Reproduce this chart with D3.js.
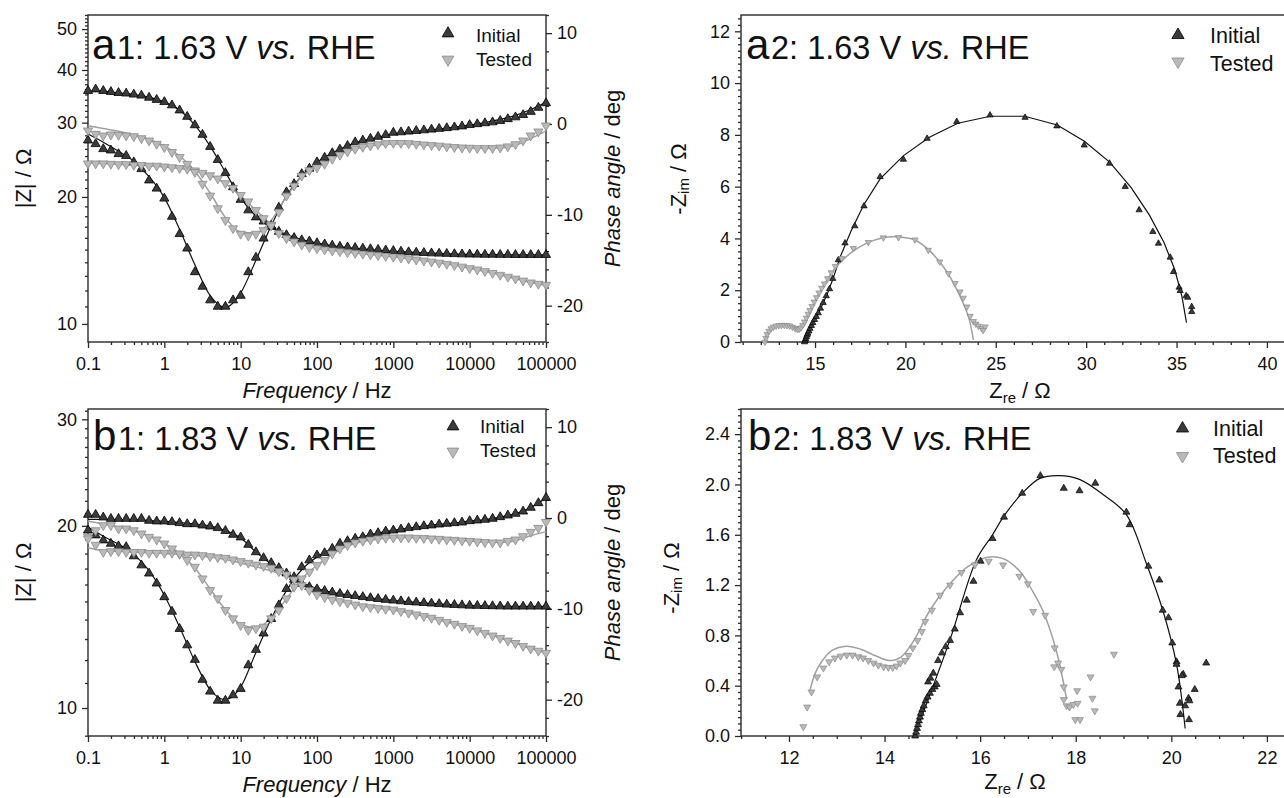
<!DOCTYPE html>
<html>
<head>
<meta charset="utf-8">
<title>EIS Bode / Nyquist</title>
<script src="https://cdn.jsdelivr.net/npm/d3@7"></script>
<style>
  body { margin: 0; background: #fff; }
  svg { display: block; background: #fff; }
  svg text { font-family: "Liberation Sans", Arial, sans-serif; }
</style>
</head>
<body>
<svg id="chart" width="1284" height="798"></svg>
<script>
// ---- frequency grid (10 points / decade) ----
const freq = [0.1, 0.1259, 0.1585, 0.1995, 0.2512, 0.3162, 0.3981, 0.5012, 0.631, 0.7943,
  1, 1.259, 1.585, 1.995, 2.512, 3.162, 3.981, 5.012, 6.31, 7.943,
  10, 12.59, 15.85, 19.95, 25.12, 31.62, 39.81, 50.12, 63.1, 79.43,
  100, 125.9, 158.5, 199.5, 251.2, 316.2, 398.1, 501.2, 631, 794.3,
  1000, 1259, 1585, 1995, 2512, 3162, 3981, 5012, 6310, 7943,
  10000, 12589, 15849, 19953, 25119, 31623, 39811, 50119, 63096, 79433, 100000];
const fitFreq = [0.1, 0.1585, 0.2512, 0.3981, 0.631, 1, 1.585, 2.512, 3.981, 6.31,
  10, 15.85, 25.12, 39.81, 63.1, 100, 158.5, 251.2, 398.1, 631,
  1000, 1585, 2512, 3981, 6310, 10000, 15849, 25119, 39811, 63096, 100000];

// ---- a1: 1.63 V Bode ----
const a1ZInit = [35.7, 36.0, 35.7, 35.5, 35.3, 35.2, 35.0, 34.8, 34.4, 34.0,
  33.6, 33.0, 32.1, 31.0, 29.6, 28.1, 26.3, 24.5, 22.8, 21.1,
  19.7, 18.6, 17.9, 17.5, 17.0, 16.55, 16.25, 16.0, 15.8, 15.7,
  15.55, 15.45, 15.35, 15.25, 15.2, 15.15, 15.1, 15.05, 15.0, 14.95,
  14.9, 14.85, 14.8, 14.77, 14.74, 14.71, 14.69, 14.67, 14.65, 14.63,
  14.62, 14.61, 14.6, 14.6, 14.59, 14.59, 14.58, 14.58, 14.58, 14.58, 14.58];
const a1PhInit = [-1.8, -2.2, -2.75, -2.9, -3.3, -3.5, -4.2, -4.95, -6.2, -7.1,
  -8.2, -10.2, -12.1, -13.7, -16.3, -17.9, -19.4, -20.1, -20.1, -19.4,
  -18.9, -16.3, -14.7, -12.6, -11.2, -9.2, -7.5, -6.6, -5.5, -4.9,
  -4.2, -3.7, -3.2, -2.8, -2.4, -2.0, -1.8, -1.6, -1.4, -1.2,
  -0.95, -0.9, -0.82, -0.75, -0.68, -0.6, -0.52, -0.44, -0.35, -0.25,
  -0.1, 0.0, 0.1, 0.2, 0.35, 0.55, 0.75, 1.0, 1.35, 1.8, 2.3];
const a1ZTest = [24.0, 24.0, 24.0, 23.95, 23.9, 23.9, 23.8, 23.8, 23.7, 23.7,
  23.6, 23.5, 23.4, 23.3, 23.1, 22.8, 22.5, 22.1, 21.55, 21.0,
  20.2, 19.5, 18.6, 17.8, 17.2, 16.4, 15.96, 15.67, 15.4, 15.2,
  15.1, 15.0, 14.92, 14.85, 14.78, 14.72, 14.66, 14.6, 14.54, 14.48,
  14.42, 14.35, 14.28, 14.2, 14.12, 14.04, 13.96, 13.87, 13.77, 13.66,
  13.55, 13.45, 13.33, 13.2, 13.06, 12.93, 12.8, 12.66, 12.53, 12.44, 12.37];
const a1PhTest = [-0.73, -1.1, -1.28, -1.17, -1.21, -1.28, -1.36, -1.58, -1.83, -2.2,
  -2.56, -3.1, -3.66, -4.4, -5.3, -6.6, -7.9, -9.3, -10.6, -11.5,
  -12.1, -12.3, -12.1, -11.7, -11.2, -9.7, -7.9, -6.8, -5.7, -5.1,
  -4.8, -4.4, -3.85, -3.4, -3.04, -2.75, -2.53, -2.38, -2.24, -2.13,
  -2.1, -2.1, -2.13, -2.2, -2.27, -2.34, -2.4, -2.48, -2.55, -2.6,
  -2.63, -2.67, -2.67, -2.67, -2.6, -2.48, -2.24, -1.83, -1.28, -0.84, -0.18];
const a1ZInitFit = [35.6, 35.6, 35.3, 35.0, 34.5, 33.6, 32.1, 29.6, 26.4, 22.9,
  19.9, 18.0, 16.95, 16.3, 15.85, 15.55, 15.32, 15.17, 15.05, 14.95,
  14.87, 14.8, 14.74, 14.69, 14.65, 14.62, 14.6, 14.59, 14.58, 14.58, 14.58];
const a1PhInitFit = [-1.1, -2.0, -3.0, -4.1, -5.8, -8.1, -11.6, -15.5, -18.9, -20.2,
  -18.6, -15.0, -11.2, -7.9, -5.7, -4.2, -3.2, -2.4, -1.85, -1.45,
  -1.1, -0.9, -0.72, -0.55, -0.35, -0.12, 0.15, 0.5, 0.95, 1.6, 2.4];
const a1ZTestFit = [24.1, 24.0, 23.9, 23.8, 23.7, 23.55, 23.35, 23.05, 22.5, 21.5,
  20.1, 18.6, 17.2, 16.1, 15.45, 15.1, 14.92, 14.78, 14.66, 14.54,
  14.42, 14.28, 14.12, 13.96, 13.77, 13.55, 13.33, 13.06, 12.8, 12.54, 12.35];
const a1PhTestFit = [-0.2, -0.5, -0.8, -1.2, -1.7, -2.4, -3.5, -5.2, -7.6, -10.3,
  -11.9, -12.0, -10.6, -8.0, -5.8, -4.6, -3.7, -3.0, -2.55, -2.3,
  -2.2, -2.2, -2.3, -2.42, -2.55, -2.63, -2.68, -2.62, -2.35, -1.6, -0.75];

// ---- b1: 1.83 V Bode ----
const b1ZInit = [20.87, 20.87, 20.66, 20.55, 20.55, 20.55, 20.55, 20.55, 20.4, 20.35,
  20.35, 20.3, 20.22, 20.14, 20.14, 20.04, 19.96, 19.84, 19.63, 19.34,
  19.15, 18.62, 18.1, 17.7, 17.37, 17.04, 16.7, 16.3, 16.05, 15.85,
  15.72, 15.62, 15.53, 15.45, 15.38, 15.32, 15.26, 15.2, 15.15, 15.1,
  15.06, 15.02, 14.98, 14.95, 14.92, 14.89, 14.86, 14.83, 14.81, 14.79,
  14.77, 14.76, 14.75, 14.74, 14.73, 14.72, 14.72, 14.72, 14.72, 14.72, 14.72];
const b1PhInit = [-1.36, -1.9, -2.45, -2.82, -3.1, -3.19, -4.2, -5.2, -6.1, -7.2,
  -8.7, -10.3, -12.2, -14.0, -15.6, -17.8, -19.1, -20.1, -20.1, -19.5,
  -18.8, -16.2, -14.5, -12.7, -11.1, -9.6, -7.8, -6.5, -5.4, -4.65,
  -4.1, -3.85, -3.37, -2.82, -2.53, -2.27, -2.09, -1.79, -1.65, -1.47,
  -1.36, -1.25, -1.1, -0.99, -0.88, -0.8, -0.7, -0.62, -0.55, -0.48,
  -0.33, -0.26, -0.18, -0.07, 0.11, 0.29, 0.48, 0.73, 1.14, 1.65, 2.23];
const b1ZTest = [19.2, 18.6, 18.1, 18.15, 18.15, 18.1, 18.1, 18.1, 18.04, 18.04,
  18.04, 18.04, 17.97, 17.92, 17.92, 17.88, 17.81, 17.74, 17.7, 17.59,
  17.48, 17.37, 17.25, 17.15, 17.04, 16.82, 16.61, 16.3, 15.95, 15.65,
  15.4, 15.24, 15.1, 15.0, 14.92, 14.82, 14.72, 14.67, 14.62, 14.58,
  14.54, 14.45, 14.36, 14.27, 14.18, 14.09, 13.98, 13.87, 13.77, 13.66,
  13.56, 13.43, 13.3, 13.17, 13.05, 12.92, 12.8, 12.66, 12.53, 12.43, 12.33];
const b1PhTest = [-2.27, -1.36, -0.81, -0.81, -1.17, -1.17, -1.36, -1.72, -2.09, -2.38,
  -2.82, -3.37, -3.92, -4.65, -5.38, -6.67, -7.95, -8.86, -10.15, -11.06,
  -11.8, -12.34, -12.16, -11.98, -11.06, -10.15, -8.86, -7.58, -6.67, -5.93,
  -5.2, -4.65, -3.92, -3.37, -3.0, -2.71, -2.53, -2.38, -2.27, -2.2,
  -2.16, -2.16, -2.16, -2.2, -2.23, -2.27, -2.31, -2.38, -2.42, -2.49,
  -2.53, -2.6, -2.67, -2.71, -2.71, -2.53, -2.38, -2.01, -1.54, -1.1, -0.44];
const b1ZInitFit = [20.5, 20.5, 20.48, 20.45, 20.4, 20.35, 20.25, 20.15, 20.0, 19.65,
  19.1, 18.1, 17.3, 16.6, 16.1, 15.75, 15.53, 15.38, 15.26, 15.15,
  15.06, 14.98, 14.92, 14.86, 14.81, 14.77, 14.75, 14.73, 14.72, 14.72, 14.72];
const b1PhInitFit = [-1.0, -2.0, -2.9, -4.0, -5.8, -8.5, -12.0, -15.8, -18.9, -20.0,
  -18.6, -14.8, -11.1, -8.0, -5.7, -4.3, -3.35, -2.55, -2.05, -1.65,
  -1.36, -1.1, -0.88, -0.7, -0.55, -0.35, -0.18, 0.1, 0.48, 1.14, 2.2];
const b1ZTestFit = [18.4, 18.2, 18.15, 18.1, 18.05, 18.0, 17.93, 17.87, 17.76, 17.6,
  17.37, 17.12, 16.85, 16.5, 15.98, 15.45, 15.12, 14.92, 14.74, 14.62,
  14.52, 14.36, 14.18, 13.98, 13.77, 13.56, 13.3, 13.05, 12.8, 12.54, 12.34];
const b1PhTestFit = [-0.35, -0.65, -1.0, -1.4, -2.0, -2.8, -3.9, -5.5, -7.8, -10.1,
  -11.7, -12.1, -11.0, -8.9, -6.7, -5.2, -4.0, -3.1, -2.6, -2.3,
  -2.18, -2.15, -2.2, -2.3, -2.42, -2.53, -2.65, -2.7, -2.5, -1.95, -1.5];

// ---- a2: 1.63 V Nyquist ----
const a2InitRe = [14.42, 14.45, 14.48, 14.52, 14.56, 14.6, 14.66, 14.72, 14.8, 14.88,
  14.97, 15.07, 15.18, 15.3, 15.45, 15.62, 15.8, 15.98, 16.29, 16.66,
  17.2, 17.71, 18.6, 19.89, 21.2, 22.84, 24.68, 26.62, 28.38, 29.89,
  31.29, 32.16, 32.93, 33.69, 34.0, 34.65, 34.83, 35.14, 35.2, 35.53,
  35.62, 35.84, 35.84];
const a2InitIm = [0.0, 0.06, 0.12, 0.19, 0.26, 0.33, 0.42, 0.52, 0.63, 0.74,
  0.86, 0.98, 1.12, 1.3, 1.52, 1.78, 2.05, 2.45, 3.17, 3.82,
  4.48, 5.25, 6.38, 7.05, 7.86, 8.51, 8.76, 8.67, 8.34, 7.6,
  6.9, 6.0, 5.1, 4.26, 3.81, 3.27, 2.71, 2.11, 1.98, 1.78,
  1.72, 1.36, 1.17];
const a2TestRe = [12.23, 12.28, 12.35, 12.45, 12.57, 12.7, 12.85, 13.0, 13.15, 13.3,
  13.45, 13.6, 13.75, 13.9, 14.02, 14.12, 14.22, 14.32, 14.42, 14.52,
  14.62, 14.72, 14.83, 14.95, 15.08, 15.22, 15.37, 15.52, 15.7, 15.9,
  16.12, 16.48, 17.12, 17.95, 18.78, 19.62, 20.53, 21.27, 21.9, 22.38,
  22.75, 23.02, 23.2, 23.4, 23.58, 23.76, 23.9, 24.04, 24.22, 24.41, 24.3];
const a2TestIm = [0.0, 0.15, 0.3, 0.42, 0.52, 0.58, 0.62, 0.64, 0.65, 0.65,
  0.64, 0.62, 0.58, 0.53, 0.5, 0.5, 0.55, 0.65, 0.78, 0.93,
  1.08, 1.22, 1.38, 1.55, 1.72, 1.9, 2.08, 2.25, 2.45, 2.68,
  2.92, 3.23, 3.62, 3.85, 4.03, 4.04, 3.95, 3.55, 3.1, 2.65,
  2.27, 1.94, 1.7, 1.36, 1.0, 0.8, 0.7, 0.62, 0.53, 0.59, 0.45];
const a2InitFitRe = [14.4, 14.7, 15.0, 15.35, 15.7, 16.0, 16.4, 17.0, 17.7, 18.6,
  19.9, 21.3, 22.9, 24.7, 26.6, 28.4, 29.9, 31.3, 32.5, 33.5, 34.3, 34.9, 35.3, 35.55];
const a2InitFitIm = [0.0, 0.45, 0.85, 1.35, 1.9, 2.45, 3.3, 4.3, 5.3, 6.3,
  7.2, 7.9, 8.45, 8.72, 8.72, 8.38, 7.75, 6.95, 5.95, 4.9, 3.85, 2.8, 1.75, 0.75];
const a2TestFitRe = [12.2, 12.35, 12.55, 12.8, 13.1, 13.4, 13.7, 14.0, 14.2, 14.45,
  14.8, 15.2, 15.7, 16.3, 17.0, 17.8, 18.7, 19.6, 20.5, 21.3, 22.0, 22.6, 23.1, 23.5, 23.76];
const a2TestFitIm = [0.0, 0.3, 0.5, 0.62, 0.66, 0.65, 0.6, 0.53, 0.52, 0.72,
  1.25, 1.85, 2.45, 3.0, 3.45, 3.8, 4.02, 4.06, 3.95, 3.55, 3.0, 2.35, 1.65, 0.95, 0.08];

// ---- b2: 1.83 V Nyquist ----
const b2InitRe = [14.64, 14.66, 14.68, 14.7, 14.72, 14.74, 14.76, 14.79, 14.82, 14.86,
  14.9, 14.95, 15.0, 15.05, 15.09, 14.91, 14.96, 15.02, 15.12, 15.2,
  15.28, 15.37, 15.47, 15.58, 15.72, 15.86, 16.01, 16.26, 16.5, 16.88,
  17.26, 17.75, 18.08, 18.41, 19.06, 19.13, 19.52, 19.75, 19.82, 19.94,
  20.02, 20.11, 20.11, 20.25, 20.22, 20.15, 20.36, 20.18, 20.49, 20.38,
  20.29, 20.19, 20.37, 20.73];
const b2InitIm = [0.0, 0.03, 0.06, 0.09, 0.12, 0.15, 0.18, 0.21, 0.24, 0.28,
  0.31, 0.34, 0.37, 0.39, 0.41, 0.43, 0.46, 0.5, 0.6, 0.66,
  0.71, 0.76, 0.85, 0.98, 1.08, 1.23, 1.39, 1.57, 1.74, 1.93,
  2.07, 1.97, 1.95, 2.01, 1.78, 1.68, 1.35, 1.24, 1.0, 0.94,
  0.74, 0.59, 0.57, 0.49, 0.48, 0.39, 0.3, 0.26, 0.37, 0.28,
  0.24, 0.17, 0.13, 0.58];
const b2TestRe = [12.3, 12.38, 12.47, 12.59, 12.72, 12.84, 12.96, 13.08, 13.21, 13.33,
  13.45, 13.55, 13.66, 13.77, 13.87, 13.98, 14.08, 14.17, 14.25, 14.33,
  14.43, 14.5, 14.59, 14.69, 14.78, 14.85, 14.99, 15.16, 15.37, 15.61,
  15.89, 16.18, 16.48, 16.82, 17.0, 17.11, 17.36, 17.56, 17.63, 17.55,
  17.7, 17.75, 17.75, 17.81, 17.87, 17.95, 18.03, 18.04, 17.99, 18.09,
  18.31, 18.35, 18.4, 18.8];
const b2TestIm = [0.074, 0.23, 0.35, 0.47, 0.54, 0.59, 0.62, 0.635, 0.643, 0.643,
  0.63, 0.62, 0.6, 0.58, 0.563, 0.55, 0.545, 0.545, 0.556, 0.58,
  0.6, 0.64, 0.7, 0.76, 0.83, 0.91, 1.0, 1.12, 1.2, 1.3,
  1.36, 1.39, 1.36, 1.27, 1.21, 0.99, 0.96, 0.7, 0.58, 0.55,
  0.53, 0.39, 0.29, 0.24, 0.23, 0.25, 0.36, 0.26, 0.13, 0.13,
  0.47, 0.3, 0.2, 0.65];
const b2InitFitRe = [14.62, 15.0, 15.4, 15.92, 16.26, 16.5, 16.88, 17.26, 17.66, 18.08,
  18.57, 19.06, 19.48, 19.83, 20.11, 20.29];
const b2InitFitIm = [0.0, 0.38, 0.8, 1.4, 1.6, 1.75, 1.93, 2.05, 2.07, 2.04,
  1.92, 1.76, 1.37, 0.99, 0.57, 0.06];
const b2TestFitRe = [12.44, 12.55, 12.7, 12.9, 13.2, 13.5, 13.8, 14.1, 14.35, 14.6,
  14.95, 15.3, 15.72, 16.13, 16.48, 16.83, 17.1, 17.32, 17.6, 17.81];
const b2TestFitIm = [0.365, 0.5, 0.6, 0.68, 0.714, 0.69, 0.64, 0.6, 0.63, 0.75,
  1.0, 1.18, 1.34, 1.42, 1.41, 1.31, 1.15, 0.99, 0.67, 0.29];

// ---- tick labels ----
const decadeTicks = [0.1, 1, 10, 100, 1000, 10000, 100000];
const decadeLabels = ['0.1', '1', '10', '100', '1000', '10000', '100000'];
const phaseTicks = [-20, -10, 0, 10];
const a1ZTicks = [10, 20, 30, 40, 50];
const b1ZTicks = [10, 20, 30];
const a2ReTicks = [15, 20, 25, 30, 35, 40];
const a2ImTicks = [0, 2, 4, 6, 8, 10, 12];
const b2ReTicks = [12, 14, 16, 18, 20, 22];
const b2ImTicks = [0, 0.4, 0.8, 1.2, 1.6, 2.0, 2.4];
const seriesNames = ['Initial', 'Tested'];

const svg = d3.select('#chart');
const ink = '#111';
const axisInk = '#2a2a2a';
const initFill = '#3b3b3b', initEdge = '#000';
const testFill = '#b9b9b9', testEdge = '#8a8a8a';
const initLine = '#111', testLine = '#a0a0a0';

const tri = size => d3.symbol(d3.symbolTriangle, size)();

function axisPair(g, make, scale, transform, major, minor, fmt) {
    const gMinor = g.append('g').attr('transform', transform)
        .call(make(scale).tickValues(minor).tickSize(3).tickSizeOuter(0).tickFormat(''));
    const gMajor = g.append('g').attr('transform', transform)
        .call(make(scale).tickValues(major).tickSize(6).tickSizeOuter(0).tickPadding(5).tickFormat(fmt));
    gMinor.select('.domain').remove();
    gMajor.select('.domain').remove();
    g.selectAll('.tick line').attr('stroke', axisInk).attr('stroke-width', 1.3);
    gMajor.selectAll('text').attr('fill', ink).attr('font-size', 18);
    return gMajor;
}

function frame(g, c) {
    g.append('rect')
        .attr('x', c.left).attr('y', c.top)
        .attr('width', c.right - c.left).attr('height', c.bottom - c.top)
        .attr('fill', 'none').attr('stroke', axisInk).attr('stroke-width', 1.4);
}

function panelTitle(g, x0, y, letter, num, volt) {
    const t = g.append('text').attr('y', y).attr('fill', ink).style('white-space', 'pre');
    t.append('tspan').attr('x', x0 - 2).attr('font-size', 42).text(letter);
    t.append('tspan').attr('x', x0 + 23).attr('font-size', 32.5).text(`${num}: ${volt} V `);
    t.append('tspan').attr('font-size', 32.5).attr('font-style', 'italic').text('vs.');
    t.append('tspan').attr('font-size', 32.5).text(' RHE');
}

function legend(g, l) {
    [0, 1].forEach(k => {
        g.append('path')
            .attr('d', tri(l.size))
            .attr('transform', `translate(${l.mx},${l.my[k]})${k ? ' rotate(180)' : ''}`)
            .attr('fill', k ? testFill : initFill)
            .attr('stroke', k ? testEdge : initEdge)
            .attr('stroke-width', 0.8);
        g.append('text')
            .attr('x', l.tx).attr('y', l.ty[k])
            .attr('font-size', l.fs).attr('fill', ink)
            .text(seriesNames[k]);
    });
}

function vLabel(g, x, y, parts) {
    const t = g.append('text')
        .attr('transform', `translate(${x},${y}) rotate(-90)`)
        .attr('text-anchor', 'middle')
        .attr('dominant-baseline', 'central')
        .attr('font-size', 22).attr('fill', ink);
    parts(t);
}

function drawBode(c) {
    const g = svg.append('g');
    const x = d3.scaleLog().domain([0.1, 100000]).range([c.left, c.right]);
    const yZ = d3.scaleLog().domain(c.zDomain).range([c.bottom, c.top]);
    const yP = d3.scaleLinear().domain([-24, 12]).range([c.bottom, c.top]);

    frame(g, c);

    const xMinor = [];
    decadeTicks.slice(0, -1).forEach(d => d3.range(2, 10).forEach(k => xMinor.push(d * k)));
    const zMinor = d3.range(Math.ceil(c.zDomain[0]), Math.floor(c.zDomain[1]) + 1)
        .filter(v => !c.zTicks.includes(v));
    const pMinor = d3.range(-24, 13, 2).filter(v => v % 10 !== 0);

    const xa = axisPair(g, d3.axisBottom, x, `translate(0,${c.bottom})`, decadeTicks, xMinor,
        (d, i) => decadeLabels[i]);
    xa.selectAll('text').attr('y', 28).attr('dy', null);
    axisPair(g, d3.axisLeft, yZ, `translate(${c.left},0)`, c.zTicks, zMinor, d => String(d));
    axisPair(g, d3.axisRight, yP, `translate(${c.right},0)`, phaseTicks, pMinor, d => String(d));

    const zLine = d3.line().x((d, i) => x(fitFreq[i])).y(d => yZ(d)).curve(d3.curveMonotoneX);
    const pLine = d3.line().x((d, i) => x(fitFreq[i])).y(d => yP(d)).curve(d3.curveMonotoneX);

    const fits = [
        [c.zInitFit, zLine, initLine, 1.2],
        [c.pInitFit, pLine, initLine, 1.2],
        [c.zTestFit, zLine, testLine, 1.5],
        [c.pTestFit, pLine, testLine, 1.5]
    ];
    fits.forEach(([vals, gen, col, w]) => {
        g.append('path').datum(vals).attr('d', gen)
            .attr('fill', 'none').attr('stroke', col).attr('stroke-width', w);
    });

    const marks = [
        [c.zInit, yZ, false], [c.pInit, yP, false],
        [c.zTest, yZ, true], [c.pTest, yP, true]
    ];
    marks.forEach(([vals, y, down]) => {
        g.append('g').selectAll('path').data(vals).join('path')
            .attr('d', tri(36))
            .attr('transform', (d, i) => `translate(${x(freq[i])},${y(d)})${down ? ' rotate(180)' : ''}`)
            .attr('fill', down ? testFill : initFill)
            .attr('stroke', down ? testEdge : initEdge)
            .attr('stroke-width', 0.8);
    });

    // axis titles
    vLabel(g, 23.5, (c.top + c.bottom) / 2, t => t.text('|Z| / \u03A9'));
    vLabel(g, 612, (c.top + c.bottom) / 2, t => {
        t.append('tspan').attr('font-style', 'italic').text('Phase angle');
        t.append('tspan').text(' / deg');
    });
    const xt = g.append('text')
        .attr('x', (c.left + c.right) / 2).attr('y', c.bottom + 56)
        .attr('text-anchor', 'middle').attr('font-size', 22).attr('fill', ink);
    xt.append('tspan').attr('font-style', 'italic').text('Frequency');
    xt.append('tspan').text(' / Hz');

    panelTitle(g, c.titleX, c.titleY, c.letter, c.num, c.volt);
    legend(g, c.legend);
}

function drawNyquist(c) {
    const g = svg.append('g');
    const x = d3.scaleLinear().domain(c.reDomain).range([c.left, c.right]);
    const y = d3.scaleLinear().domain(c.imDomain).range([c.bottom, c.top]);

    frame(g, c);

    const reMinor = d3.range(Math.ceil(c.reDomain[0] / c.reStep), Math.floor(c.reDomain[1] / c.reStep) + 1)
        .map(k => +(k * c.reStep).toFixed(3))
        .filter(v => !c.reTicks.some(t => Math.abs(t - v) < 1e-6));
    const imMinor = d3.range(0, Math.floor(c.imDomain[1] / c.imStep + 1e-6) + 1)
        .map(k => +(k * c.imStep).toFixed(3))
        .filter(v => !c.imTicks.some(t => Math.abs(t - v) < 1e-6));

    const xa = axisPair(g, d3.axisBottom, x, `translate(0,${c.bottom})`, c.reTicks, reMinor, d => String(d));
    xa.selectAll('text').attr('y', 28).attr('dy', null);
    axisPair(g, d3.axisLeft, y, `translate(${c.left},0)`, c.imTicks, imMinor, c.imFmt);

    const line = (re, curve) => d3.line()
        .x((d, i) => x(re[i])).y(d => y(d)).curve(curve);

    g.append('path').datum(c.initFitIm).attr('d', line(c.initFitRe, c.initCurve))
        .attr('fill', 'none').attr('stroke', initLine).attr('stroke-width', 1.2);
    g.append('path').datum(c.testFitIm).attr('d', line(c.testFitRe, d3.curveCatmullRom))
        .attr('fill', 'none').attr('stroke', testLine).attr('stroke-width', 1.5);

    [[c.initRe, c.initIm, false], [c.testRe, c.testIm, true]].forEach(([re, im, down]) => {
        g.append('g').selectAll('path').data(im).join('path')
            .attr('d', tri(c.markSize))
            .attr('transform', (d, i) => `translate(${x(re[i])},${y(d)})${down ? ' rotate(180)' : ''}`)
            .attr('fill', down ? testFill : initFill)
            .attr('stroke', down ? testEdge : initEdge)
            .attr('stroke-width', 0.7);
    });

    vLabel(g, c.yLabelX, c.yLabelY, t => {
        t.append('tspan').text('-Z');
        t.append('tspan').attr('font-size', 15).attr('dy', 5).text('im');
        t.append('tspan').attr('dy', -5).text(' / \u03A9');
    });
    const xt = g.append('text')
        .attr('x', c.xLabelX).attr('y', c.xLabelY)
        .attr('text-anchor', 'middle').attr('font-size', 22).attr('fill', ink);
    xt.append('tspan').text('Z');
    xt.append('tspan').attr('font-size', 15).attr('dy', 5).text('re');
    xt.append('tspan').attr('dy', -5).text(' / \u03A9');

    panelTitle(g, c.titleX, c.titleY, c.letter, c.num, c.volt);
    legend(g, c.legend);
}

drawBode({
    left: 88, right: 546, top: 15, bottom: 342,
    zDomain: [9.06, 54], zTicks: a1ZTicks,
    zInit: a1ZInit, pInit: a1PhInit, zTest: a1ZTest, pTest: a1PhTest,
    zInitFit: a1ZInitFit, pInitFit: a1PhInitFit, zTestFit: a1ZTestFit, pTestFit: a1PhTestFit,
    titleX: 94, titleY: 59, letter: 'a', num: '1', volt: '1.63',
    legend: { mx: 448, my: [33.5, 59.5], tx: 476, ty: [42, 66], fs: 19, size: 60 }
});
drawBode({
    left: 88, right: 546, top: 409, bottom: 736,
    zDomain: [8.99, 31.2], zTicks: b1ZTicks,
    zInit: b1ZInit, pInit: b1PhInit, zTest: b1ZTest, pTest: b1PhTest,
    zInitFit: b1ZInitFit, pInitFit: b1PhInitFit, zTestFit: b1ZTestFit, pTestFit: b1PhTestFit,
    titleX: 95, titleY: 449.5, letter: 'b', num: '1', volt: '1.83',
    legend: { mx: 453, my: [426.5, 451.5], tx: 480, ty: [433, 457], fs: 19, size: 60 }
});
drawNyquist({
    left: 741, right: 1285, top: 15, bottom: 342,
    reDomain: [10.905, 41], imDomain: [0, 12.63],
    reTicks: a2ReTicks, imTicks: a2ImTicks, reStep: 1, imStep: 0.25, imFmt: d => String(d),
    initRe: a2InitRe, initIm: a2InitIm, testRe: a2TestRe, testIm: a2TestIm,
    initFitRe: a2InitFitRe, initFitIm: a2InitFitIm, testFitRe: a2TestFitRe, testFitIm: a2TestFitIm,
    initCurve: d3.curveLinear, markSize: 17,
    yLabelX: 678, yLabelY: 179, xLabelX: 1020, xLabelY: 398,
    titleX: 748, titleY: 59, letter: 'a', num: '2', volt: '1.63',
    legend: { mx: 1178, my: [35, 61.5], tx: 1210, ty: [43, 70.5], fs: 21.5, size: 64 }
});
drawNyquist({
    left: 741, right: 1286, top: 409, bottom: 736,
    reDomain: [10.996, 22.4], imDomain: [0, 2.6],
    reTicks: b2ReTicks, imTicks: b2ImTicks, reStep: 0.5, imStep: 0.05, imFmt: d3.format('.1f'),
    initRe: b2InitRe, initIm: b2InitIm, testRe: b2TestRe, testIm: b2TestIm,
    initFitRe: b2InitFitRe, initFitIm: b2InitFitIm, testFitRe: b2TestFitRe, testFitIm: b2TestFitIm,
    initCurve: d3.curveCatmullRom, markSize: 21,
    yLabelX: 671, yLabelY: 578, xLabelX: 1015, xLabelY: 789,
    titleX: 750, titleY: 449.5, letter: 'b', num: '2', volt: '1.83',
    legend: { mx: 1182.5, my: [428.5, 456], tx: 1213, ty: [436, 463], fs: 21.5, size: 64 }
});
</script>
</body>
</html>
